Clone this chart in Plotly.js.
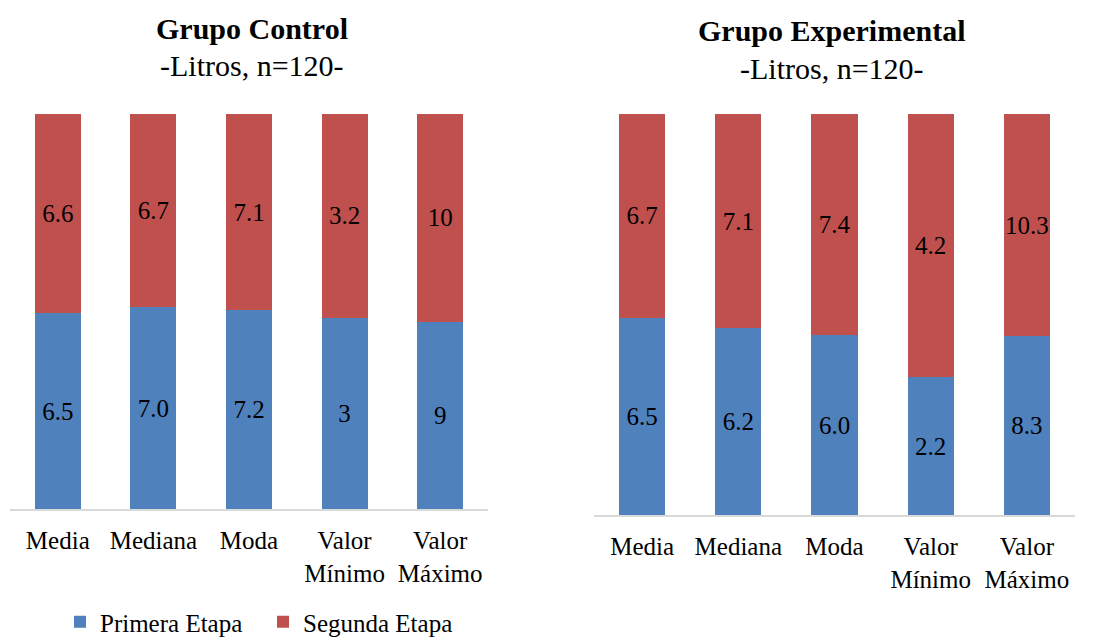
<!DOCTYPE html>
<html>
<head>
<meta charset="utf-8">
<script src="https://cdn.plot.ly/plotly-3.0.1.min.js"></script>
<style>html,body{margin:0;padding:0;background:#fff;}#chart{width:1097px;height:638px;}</style>
</head>
<body>
<div id="chart"></div>
<script>
const categorias = ["Media", "Mediana", "Moda", "Valor<br>Mínimo", "Valor<br>Máximo"];
const controlPrimera = [6.5, 7.0, 7.2, 3, 9];
const controlSegunda = [6.6, 6.7, 7.1, 3.2, 10];
const controlPrimeraTxt = ["6.5", "7.0", "7.2", "3", "9"];
const controlSegundaTxt = ["6.6", "6.7", "7.1", "3.2", "10"];
const expPrimera = [6.5, 6.2, 6.0, 2.2, 8.3];
const expSegunda = [6.7, 7.1, 7.4, 4.2, 10.3];
const expPrimeraTxt = ["6.5", "6.2", "6.0", "2.2", "8.3"];
const expSegundaTxt = ["6.7", "7.1", "7.4", "4.2", "10.3"];
const serieNombres = ["Primera Etapa", "Segunda Etapa"];
const titulos = ["<b>Grupo Control</b>", "<b>Grupo Experimental</b>"];
const subtitulo = "-Litros, n=120-";

const FONT = "'Liberation Serif', 'Times New Roman', serif";
const AZUL = "#4F81BD", ROJO = "#C0504D";

function barra(y, txt, name, color, xa, ya, show) {
  return {
    type: "bar", x: categorias, y: y, text: txt, name: name,
    xaxis: xa, yaxis: ya, showlegend: show, legendgroup: name,
    marker: {color: color, line: {width: 0}},
    textposition: "inside", insidetextanchor: "middle", constraintext: "none",
    textangle: 0,
    textfont: {family: FONT, size: 25, color: "#000"},
    hoverinfo: "skip"
  };
}

const data = [
  barra(controlPrimera, controlPrimeraTxt, serieNombres[0], AZUL, "x", "y", true),
  barra(controlSegunda, controlSegundaTxt, serieNombres[1], ROJO, "x", "y", true),
  barra(expPrimera, expPrimeraTxt, serieNombres[0], AZUL, "x2", "y2", false),
  barra(expSegunda, expSegundaTxt, serieNombres[1], ROJO, "x2", "y2", false)
];

const xbase = {
  type: "category", showgrid: false, zeroline: false,
  showline: true, linecolor: "#D9D9D9", linewidth: 2,
  ticks: "", ticklabelstandoff: 8,
  tickfont: {family: FONT, size: 25, color: "#000"},
  fixedrange: true
};
const ybase = {
  range: [0, 100], showgrid: false, zeroline: false, showline: false,
  showticklabels: false, ticks: "", fixedrange: true
};

function nota(text, xpx, ypx) {
  return {text: text, xref: "paper", yref: "paper", x: xpx/1097, y: 1 - ypx/638,
    xanchor: "center", yanchor: "middle", showarrow: false,
    font: {family: FONT, size: 30, color: "#000"}};
}

const layout = {
  width: 1097, height: 638,
  margin: {l: 0, r: 0, t: 0, b: 0, autoexpand: false},
  paper_bgcolor: "#fff", plot_bgcolor: "#fff",
  barmode: "stack", barnorm: "percent", bargap: 0.52,
  font: {family: FONT, size: 25, color: "#000"},
  xaxis: Object.assign({}, xbase, {domain: [10/1097, 488/1097], anchor: "y"}),
  yaxis: Object.assign({}, ybase, {domain: [(638-509)/638, (638-114)/638], anchor: "x"}),
  xaxis2: Object.assign({}, xbase, {domain: [594/1097, 1075/1097], anchor: "y2"}),
  yaxis2: Object.assign({}, ybase, {domain: [(638-515)/638, (638-114)/638], anchor: "x2"}),
  showlegend: true,
  legend: {
    orientation: "h", x: 263/1097, xanchor: "center", y: 16/638, yanchor: "middle",
    font: {family: FONT, size: 25, color: "#000"}, traceorder: "normal",
    entrywidth: 158, entrywidthmode: "pixels", bgcolor: "rgba(0,0,0,0)"
  },
  annotations: [
    nota(titulos[0], 252, 28),
    nota(subtitulo, 252, 66),
    nota(titulos[1], 832, 31),
    nota(subtitulo, 832, 69)
  ]
};

Plotly.newPlot("chart", data, layout, {displayModeBar: false, staticPlot: true});
</script>
</body>
</html>
